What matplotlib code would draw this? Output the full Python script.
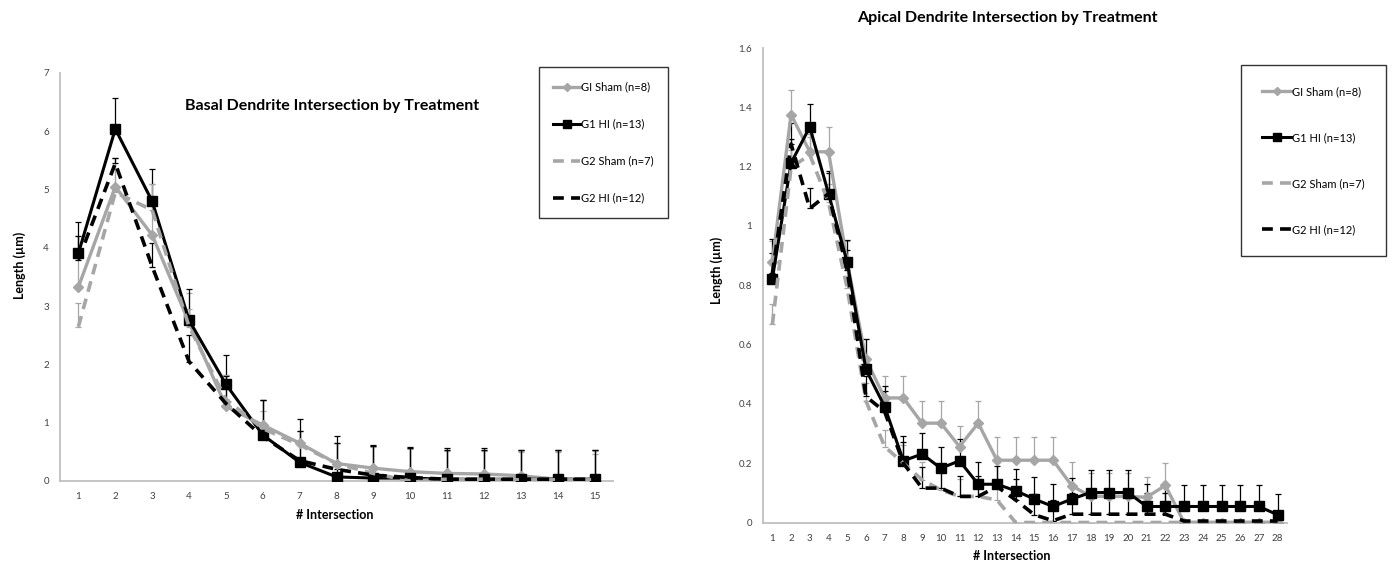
import numpy as np
import matplotlib
matplotlib.use('Agg')
import matplotlib.pyplot as plt

plt.rcParams['font.family'] = ['Lato', 'DejaVu Sans']

# --- data: basal (left) ---
basal_x = np.arange(1, 16)
basal_g1_sham = [3.33, 5.05, 4.22, 2.72, 1.28, 0.96, 0.65, 0.30, 0.22, 0.16, 0.13, 0.12, 0.09, 0.03, 0.03]
basal_g1_sham_err = [0.87, 0.50, 0.87, 0.50, 0.54, 0.43, 0.21, 0.35, 0.38, 0.40, 0.39, 0.40, 0.41, 0.47, 0.44]
basal_g1_hi = [3.91, 6.04, 4.80, 2.76, 1.66, 0.79, 0.32, 0.07, 0.05, 0.05, 0.03, 0.03, 0.03, 0.03, 0.03]
basal_g1_hi_err = [0.54, 0.53, 0.55, 0.53, 0.50, 0.60, 0.74, 0.71, 0.57, 0.54, 0.53, 0.53, 0.51, 0.51, 0.51]
basal_g2_sham = [2.65, 4.95, 4.65, 2.65, 1.40, 0.90, 0.62, 0.30, 0.13, 0.00, 0.03, 0.03, 0.02, 0.02, 0.02]
basal_g2_sham_err = [0.41, 0.60, 0.44, 0.30, 0.42, 0.30, 0.24, 0.35, 0.45, 0.55, 0.50, 0.50, 0.50, 0.50, 0.50]
basal_g2_hi = [3.80, 5.45, 3.68, 2.05, 1.33, 0.76, 0.35, 0.20, 0.10, 0.06, 0.03, 0.03, 0.03, 0.03, 0.03]
basal_g2_hi_err = [0.40, 0.10, 0.40, 0.45, 0.48, 0.63, 0.51, 0.45, 0.50, 0.50, 0.50, 0.50, 0.50, 0.50, 0.50]

# --- data: apical (right) ---
apical_x = np.arange(1, 29)
apical_g1_sham = [0.88, 1.375, 1.25, 1.25, 0.88, 0.55, 0.42, 0.42, 0.335, 0.335, 0.256, 0.335, 0.21, 0.21,
                  0.21, 0.21, 0.124, 0.088, 0.088, 0.088, 0.085, 0.125, 0, 0, 0, 0, 0, 0]
apical_g1_sham_err = [0.07, 0.083, 0.06, 0.084, 0.07, 0.07, 0.074, 0.074, 0.076, 0.076, 0.071, 0.076, 0.077, 0.077,
                      0.077, 0.077, 0.079, 0.08, 0.08, 0.08, 0.07, 0.076, 0, 0, 0, 0, 0, 0]
apical_g1_hi = [0.822, 1.212, 1.334, 1.109, 0.877, 0.516, 0.391, 0.208, 0.231, 0.183, 0.208, 0.129, 0.129, 0.107,
                0.079, 0.054, 0.079, 0.101, 0.101, 0.101, 0.054, 0.054, 0.054, 0.054, 0.054, 0.054, 0.054, 0.026]
apical_g1_hi_err = [0.135, 0.08, 0.076, 0.075, 0.077, 0.104, 0.069, 0.084, 0.072, 0.073, 0.073, 0.074, 0.074, 0.073,
                    0.073, 0.075, 0.071, 0.077, 0.077, 0.077, 0.075, 0.072, 0.072, 0.072, 0.072, 0.072, 0.072, 0.071]
apical_g2_sham = [0.668, 1.197, 1.24, 1.08, 0.79, 0.41, 0.256, 0.2, 0.144, 0.11, 0.088, 0.088, 0.076, 0,
                  0, 0, 0, 0, 0, 0, 0, 0, 0, 0, 0, 0, 0, 0]
apical_g2_sham_err = [0.069, 0.06, 0.06, 0.06, 0.06, 0.06, 0.056, 0.06, 0.06, 0.06, 0.06, 0.06, 0.06, 0,
                      0, 0, 0, 0, 0, 0, 0, 0, 0, 0, 0, 0, 0, 0]
apical_g2_hi = [0.84, 1.276, 1.059, 1.109, 0.85, 0.425, 0.374, 0.2, 0.116, 0.116, 0.088, 0.088, 0.121, 0.076,
                0.026, 0.006, 0.028, 0.028, 0.028, 0.028, 0.028, 0.028, 0.005, 0.005, 0.005, 0.005, 0.005, 0.005]
apical_g2_hi_err = [0.07, 0.07, 0.07, 0.07, 0.07, 0.07, 0.07, 0.07, 0.07, 0.07, 0.07, 0.07, 0.07, 0.07,
                    0.07, 0.07, 0.07, 0.07, 0.07, 0.07, 0.07, 0.07, 0, 0, 0, 0, 0, 0]

labels = ['GI Sham (n=8)', 'G1 HI (n=13)', 'G2 Sham (n=7)', 'G2 HI (n=12)']
GRAY = '#a6a6a6'
AXIS = '#bfbfbf'

W, H = 1393, 565
fig = plt.figure(figsize=(W / 100, H / 100), dpi=100)


def fx(px):
    return px / W


def fy(py):
    return 1 - py / H


def draw(ax, x, series, ymax, ystep):
    styles = [
        dict(color=GRAY, ls='-', marker='D', ms=5, lw=2.4),
        dict(color='black', ls='-', marker='s', ms=7, lw=2.2),
        dict(color=GRAY, ls=(0, (3, 2)), marker=None, lw=2.6),
        dict(color='black', ls=(0, (3, 2)), marker=None, lw=2.6),
    ]
    handles = []
    for (vals, err), st in zip(series, styles):
        ax.errorbar(x, vals, yerr=[np.zeros(len(err)), err], fmt='none',
                    ecolor=st['color'], elinewidth=0.9, capsize=2.5, capthick=0.9, zorder=2)
        h, = ax.plot(x, vals, color=st['color'], ls=st['ls'], lw=st['lw'],
                     marker=st['marker'], ms=st.get('ms', 0), zorder=3)
        handles.append(h)
    ax.set_xlim(0.5, len(x) + 0.5)
    ax.set_ylim(0, ymax)
    ax.set_xticks(x)
    ax.set_yticks(np.arange(0, ymax + ystep / 2, ystep))
    ax.tick_params(length=0, labelsize=7, labelcolor='#404040', pad=8)
    for s in ['top', 'right']:
        ax.spines[s].set_visible(False)
    for s in ['left', 'bottom']:
        ax.spines[s].set_color(AXIS)
        ax.spines[s].set_linewidth(1.3)
    return handles


# left chart
ax1 = fig.add_axes([fx(60), fy(481), fx(553), 408 / H])
h1 = draw(ax1, basal_x,
          [(basal_g1_sham, basal_g1_sham_err), (basal_g1_hi, basal_g1_hi_err),
           (basal_g2_sham, basal_g2_sham_err), (basal_g2_hi, basal_g2_hi_err)], 7, 1)
ax1.set_yticklabels([str(v) for v in range(8)])

# right chart
ax2 = fig.add_axes([fx(763), fy(522.5), fx(524), 474.5 / H])
h2 = draw(ax2, apical_x,
          [(apical_g1_sham, apical_g1_sham_err), (apical_g1_hi, apical_g1_hi_err),
           (apical_g2_sham, apical_g2_sham_err), (apical_g2_hi, apical_g2_hi_err)], 1.6, 0.2)
ax2.set_yticklabels(['0', '0.2', '0.4', '0.6', '0.8', '1', '1.2', '1.4', '1.6'])

# titles and axis labels
fig.text(fx(332), fy(106), 'Basal Dendrite Intersection by Treatment', ha='center', va='center',
         fontsize=11.5, fontweight='bold')
fig.text(fx(1007), fy(18), 'Apical Dendrite Intersection by Treatment', ha='center', va='center',
         fontsize=11.5, fontweight='bold')
fig.text(fx(335), fy(515), '# Intersection', ha='center', va='center', fontsize=9, fontweight='bold')
fig.text(fx(1012), fy(556), '# Intersection', ha='center', va='center', fontsize=9, fontweight='bold')
fig.text(fx(20), fy(265), 'Length (µm)', ha='center', va='center', rotation=90, fontsize=9, fontweight='bold')
fig.text(fx(717), fy(270), 'Length (µm)', ha='center', va='center', rotation=90, fontsize=9, fontweight='bold')

# legends
leg1 = fig.legend(h1, labels, loc='upper left', bbox_to_anchor=(fx(539), fy(67)), borderaxespad=0,
                  fontsize=8, frameon=True, fancybox=False, edgecolor='black', labelspacing=2.35,
                  borderpad=1.3, handlelength=2.4, handletextpad=0.1, markerscale=0.8)
leg1.get_frame().set_linewidth(1.0)
leg2 = fig.legend(h2, labels, loc='upper left', bbox_to_anchor=(fx(1241), fy(65)), borderaxespad=0,
                  fontsize=8, frameon=True, fancybox=False, edgecolor='black', labelspacing=3.15,
                  borderpad=1.9, handlelength=2.6, handletextpad=0.1, markerscale=0.8)
leg2.get_frame().set_linewidth(1.0)

fig.savefig('out.png', dpi=100, facecolor='white')
